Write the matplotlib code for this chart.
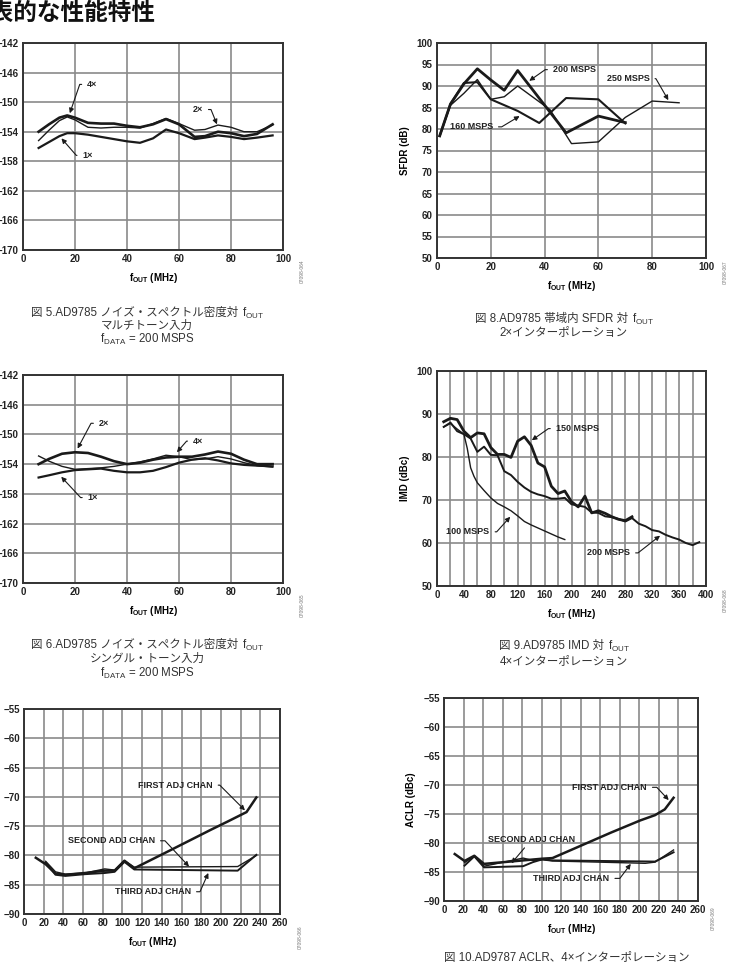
import numpy as np
import matplotlib
matplotlib.use("Agg")
import matplotlib.pyplot as plt

plt.rcParams['font.family'] = ['Liberation Sans', 'Noto Sans CJK JP']
plt.rcParams['mathtext.fontset'] = 'custom'
plt.rcParams['mathtext.rm'] = 'Liberation Sans'
plt.rcParams['mathtext.bf'] = 'Liberation Sans:bold'

W, H = 737, 969

# --- Fig 5: NSD multi-tone ---
nsd_mt_x = [6, 10, 14, 17, 20, 25, 30, 35, 40, 45, 50, 55, 60, 66, 70, 75, 80, 85, 90, 96]
nsd_mt_4x = [-154.0, -153.0, -152.1, -151.8, -152.1, -152.8, -152.9, -152.9, -153.2, -153.4,
             -153.0, -152.3, -153.0, -154.7, -154.6, -154.0, -154.2, -154.6, -154.3, -153.0]
nsd_mt_2x = [-155.2, -153.8, -152.5, -152.0, -152.4, -153.4, -153.5, -153.4, -153.4, -153.5,
             -152.9, -152.2, -152.9, -153.8, -153.7, -153.1, -153.4, -154.0, -154.0, -153.1]
nsd_mt_1x = [-156.2, -155.4, -154.6, -154.2, -154.2, -154.4, -154.7, -155.0, -155.3, -155.5,
             -154.9, -153.7, -154.2, -155.0, -154.8, -154.5, -154.7, -155.0, -154.8, -154.5]

# --- Fig 6: NSD single tone ---
nsd_st_x = [6, 10, 15, 20, 25, 30, 35, 40, 45, 50, 55, 60, 65, 70, 75, 80, 85, 90, 96]
nsd_st_2x = [-154.0, -153.3, -152.6, -152.4, -152.5, -153.0, -153.6, -154.0, -153.8, -153.4,
             -153.1, -153.0, -153.0, -152.7, -152.3, -152.6, -153.4, -154.0, -154.0]
nsd_st_4x = [-152.9, -153.6, -154.3, -154.7, -154.6, -154.5, -154.3, -154.0, -153.7, -153.3,
             -152.8, -153.0, -153.4, -153.3, -153.0, -153.3, -153.8, -154.2, -154.4]
nsd_st_1x = [-155.8, -155.5, -155.1, -154.8, -154.7, -154.6, -154.9, -155.1, -155.1, -154.9,
             -154.4, -153.8, -153.4, -153.2, -153.5, -153.9, -154.1, -154.2, -154.3]

# --- Fig 8: SFDR ---
sfdr_200_x = [1, 5, 10, 15, 20, 25, 30, 48, 60, 70]
sfdr_200 = [78.4, 85.8, 90.5, 94.0, 91.4, 89.0, 93.6, 79.1, 83.0, 81.5]
sfdr_160_x = [1, 5, 10, 15, 20, 30, 38, 48, 60, 70]
sfdr_160 = [78.4, 85.8, 90.7, 90.9, 86.9, 84.2, 81.4, 87.2, 86.9, 81.3]
sfdr_250_x = [1, 5, 10, 15, 20, 25, 30, 42, 50, 60, 70, 80, 90]
sfdr_250 = [78.4, 85.5, 88.3, 91.5, 86.9, 87.5, 90.0, 84.5, 76.6, 77.0, 82.7, 86.5, 86.1]

# --- Fig 9: IMD ---
imd_150_x = [10, 20, 30, 40, 50, 60, 70, 80, 90, 100, 110, 120, 130, 140, 150, 160, 170, 180,
             190, 200, 210, 220, 230, 240, 250, 260, 270, 280, 290]
imd_150 = [88.2, 89.0, 88.7, 86.0, 84.5, 85.6, 85.4, 82.2, 80.6, 80.6, 79.9, 83.7, 84.7, 82.7,
           78.6, 77.7, 73.2, 71.5, 72.1, 69.6, 68.4, 70.9, 67.0, 67.5, 66.9, 66.1, 65.5, 65.2, 66.1]
imd_200_x = [10, 20, 30, 40, 50, 60, 70, 80, 90, 100, 110, 120, 130, 140, 150, 160, 170, 180,
             190, 200, 210, 220, 230, 240, 250, 260, 270, 280, 290, 300, 310, 320, 330, 340,
             350, 360, 370, 380, 390]
imd_200 = [87.0, 88.0, 86.0, 85.3, 84.3, 81.2, 82.4, 80.5, 80.4, 76.7, 75.8, 74.2, 72.9, 71.9,
           71.3, 70.9, 70.3, 70.3, 70.5, 69.0, 68.7, 68.4, 67.1, 67.0, 66.2, 66.0, 65.6, 65.0,
           65.8, 64.5, 63.9, 63.0, 62.7, 61.9, 61.3, 60.8, 60.0, 59.5, 60.2]
imd_100_x = [10, 20, 30, 40, 45, 50, 55, 60, 70, 80, 90, 100, 110, 120, 130, 140, 150, 160,
             170, 180, 190]
imd_100 = [87.0, 87.8, 86.5, 85.3, 82.0, 77.5, 75.5, 74.0, 72.2, 70.5, 69.2, 68.4, 67.5, 66.3,
           65.0, 64.2, 63.5, 62.8, 62.1, 61.4, 60.8]

# --- Fig 7: ACLR AD9785 ---
aclr5_first_x = [12, 22, 32, 42, 62, 82, 92, 102, 112, 150, 190, 207, 226, 236]
aclr5_first = [-80.4, -81.5, -83.1, -83.3, -83.0, -82.6, -82.6, -80.9, -82.2, -79.0, -75.6,
               -74.2, -72.6, -70.1]
aclr5_second_x = [22, 32, 42, 62, 82, 92, 102, 112, 217, 236]
aclr5_second = [-81.0, -82.8, -83.2, -83.0, -82.3, -82.5, -80.9, -82.0, -81.9, -80.0]
aclr5_third_x = [22, 32, 42, 62, 82, 92, 102, 112, 217, 236]
aclr5_third = [-81.2, -83.3, -83.5, -83.2, -83.0, -82.8, -81.1, -82.4, -82.6, -79.9]

# --- Fig 10: ACLR AD9787 ---
aclr7_first_x = [11, 21, 31, 41, 81, 101, 111, 141, 171, 201, 216, 226, 235]
aclr7_first = [-81.9, -83.1, -82.2, -83.6, -83.0, -82.7, -82.6, -80.4, -78.2, -76.1, -75.2,
               -74.2, -72.2]
aclr7_second_x = [21, 31, 41, 81, 91, 101, 111, 216, 235]
aclr7_second = [-83.9, -82.3, -84.2, -84.0, -83.3, -82.8, -83.0, -83.2, -81.6]
aclr7_third_x = [21, 31, 41, 81, 91, 101, 111, 206, 216, 235]
aclr7_third = [-83.4, -82.2, -84.0, -82.6, -83.0, -82.9, -83.1, -83.5, -83.3, -81.2]

GRID = '#8a8a8a'
LINE = '#1a1a1a'
XLAB = r'$\mathbf{f}_{\mathbf{OUT}}$ (MHz)'

fig = plt.figure(figsize=(W / 100, H / 100), dpi=100)


def make_ax(l, r, t, b):
    ax = fig.add_axes([l / W, 1 - b / H, (r - l) / W, (b - t) / H])
    for s in ax.spines.values():
        s.set_color('#333333')
        s.set_linewidth(1.4)
    ax.tick_params(length=0, labelsize=7, pad=3, colors='#222222')
    ax.grid(True, which='both', color=GRID, lw=1.2)
    ax.set_axisbelow(True)
    ax.set_xlabel(XLAB, fontsize=7, fontweight='bold', labelpad=5)
    return ax


def bold_ticks(ax):
    for lab in ax.get_xticklabels() + ax.get_yticklabels():
        lab.set_fontweight('bold')


def label(ax, txt, anchor, tip, ang, ha):
    ax.annotate(txt, xy=tip, xytext=anchor, ha=ha, va='center', fontsize=6.5,
                fontweight='bold', color='#222222',
                arrowprops=dict(arrowstyle='-|>', color=LINE, lw=0.8, shrinkA=2, shrinkB=0,
                                mutation_scale=7,
                                connectionstyle=f'angle,angleA=0,angleB={ang},rad=0'))


def fig_id(x, y, s):
    fig.text(x / W, 1 - y / H, s, rotation=90, fontsize=3.5, color='#777777',
             ha='center', va='center')


def caption(x, y, txt):
    fig.text(x / W, 1 - y / H, txt, ha='center', va='center', fontsize=8.3, color='#333333')


def caption_fout(ax, x, y, txt):
    t = fig.text(x / W, 1 - y / H, txt, ha='center', va='center', fontsize=8.3,
                 color='#333333')
    ax.annotate(r'f$_{\mathrm{OUT}}$', xy=(1, 0), xycoords=t, xytext=(2.5, 1.6),
                textcoords='offset points', ha='left', va='baseline', fontsize=8.3,
                color='#333333', annotation_clip=False)


# title (cut at the left edge of the page)
fig.text(-33 / W, 1 - 13 / H, '代表的な性能特性', fontsize=17, fontweight='bold',
         ha='left', va='center', color='#111111')

# ---------- Fig 5 ----------
ax1 = make_ax(23, 283, 43, 250)
ax1.plot(nsd_mt_x, nsd_mt_2x, color=LINE, lw=1.0)
ax1.plot(nsd_mt_x, nsd_mt_1x, color=LINE, lw=1.6)
ax1.plot(nsd_mt_x, nsd_mt_4x, color=LINE, lw=1.9)
ax1.set_xlim(0, 100)
ax1.set_ylim(-170, -142)
ax1.set_xticks(np.arange(0, 101, 20))
ax1.set_yticks(np.arange(-170, -141, 4))
bold_ticks(ax1)
label(ax1, '4×', (24.7, -147.6), (18, -151.5), 71, 'left')
label(ax1, '2×', (69.2, -151.0), (74.6, -153.0), 112, 'right')
label(ax1, '1×', (22.9, -157.2), (14.8, -154.9), -49, 'left')
fig_id(302, 271, '07098-064')
caption_fout(ax1, 135, 313, '図 5.AD9785 ノイズ・スペクトル密度対')
caption(147, 326, 'マルチトーン入力')
caption(147, 339, r'f$_{\mathrm{DATA}}$ = 200 MSPS')

# ---------- Fig 8 ----------
ax2 = make_ax(437, 706, 43, 258)
ax2.plot(sfdr_250_x, sfdr_250, color=LINE, lw=1.0)
ax2.plot(sfdr_160_x, sfdr_160, color=LINE, lw=1.5)
ax2.plot(sfdr_200_x, sfdr_200, color=LINE, lw=2.0)
ax2.set_xlim(0, 100)
ax2.set_ylim(50, 100)
ax2.set_xticks(np.arange(0, 101, 20))
ax2.set_yticks(np.arange(50, 101, 5))
ax2.set_ylabel('SFDR (dB)', fontsize=7, fontweight='bold', labelpad=5)
bold_ticks(ax2)
label(ax2, '200 MSPS', (43.1, 93.8), (34.3, 91.2), 35, 'left')
label(ax2, '250 MSPS', (79.0, 91.7), (86.0, 86.7), 120, 'right')
label(ax2, '160 MSPS', (20.8, 80.5), (30.7, 83.0), 31, 'right')
fig_id(725, 272, '07098-067')
caption_fout(ax2, 552, 319, '図 8.AD9785 帯域内 SFDR 対')
caption(564, 333, '2×インターポレーション')

# ---------- Fig 6 ----------
ax3 = make_ax(23, 283, 375, 583)
ax3.plot(nsd_st_x, nsd_st_4x, color=LINE, lw=1.0)
ax3.plot(nsd_st_x, nsd_st_1x, color=LINE, lw=1.6)
ax3.plot(nsd_st_x, nsd_st_2x, color=LINE, lw=1.9)
ax3.set_xlim(0, 100)
ax3.set_ylim(-170, -142)
ax3.set_xticks(np.arange(0, 101, 20))
ax3.set_yticks(np.arange(-170, -141, 4))
bold_ticks(ax3)
label(ax3, '2×', (29.2, -148.5), (21.0, -151.9), 62, 'left')
label(ax3, '4×', (65.4, -150.9), (59.2, -152.4), 49, 'left')
label(ax3, '1×', (24.9, -158.5), (14.7, -155.7), -47, 'left')
fig_id(302, 605, '07098-065')
caption_fout(ax3, 135, 645, '図 6.AD9785 ノイズ・スペクトル密度対')
caption(147, 659, 'シングル・トーン入力')
caption(147, 673, r'f$_{\mathrm{DATA}}$ = 200 MSPS')

# ---------- Fig 9 ----------
ax4 = make_ax(437, 706, 371, 586)
ax4.plot(imd_100_x, imd_100, color=LINE, lw=1.0)
ax4.plot(imd_200_x, imd_200, color=LINE, lw=1.4)
ax4.plot(imd_150_x, imd_150, color=LINE, lw=2.0)
ax4.set_xlim(0, 400)
ax4.set_ylim(50, 100)
ax4.set_xticks(np.arange(0, 401, 40))
ax4.set_xticks(np.arange(0, 401, 20), minor=True)
ax4.set_yticks(np.arange(50, 101, 10))
ax4.tick_params(which='minor', length=0)
ax4.set_ylabel('IMD (dBc)', fontsize=7, fontweight='bold', labelpad=5)
bold_ticks(ax4)
label(ax4, '150 MSPS', (176.7, 86.6), (141, 83.9), 35, 'left')
label(ax4, '100 MSPS', (78.2, 62.6), (108.9, 66.1), 48, 'right')
label(ax4, '200 MSPS', (287.1, 57.7), (331.7, 61.7), 38, 'right')
fig_id(725, 600, '07098-068')
caption_fout(ax4, 552, 646, '図 9.AD9785 IMD 対')
caption(564, 662, '4×インターポレーション')

# ---------- Fig 7 ----------
ax5 = make_ax(24, 280, 709, 914)
ax5.plot(aclr5_third_x, aclr5_third, color=LINE, lw=1.4)
ax5.plot(aclr5_second_x, aclr5_second, color=LINE, lw=1.0)
ax5.plot(aclr5_first_x, aclr5_first, color=LINE, lw=1.8)
ax5.set_xlim(0, 260)
ax5.set_ylim(-90, -55)
ax5.set_xticks(np.arange(0, 261, 20))
ax5.set_yticks(np.arange(-90, -54, 5))
bold_ticks(ax5)
label(ax5, 'FIRST ADJ CHAN', (191.6, -68.0), (224.4, -72.3), 135, 'right')
label(ax5, 'SECOND ADJ CHAN', (133.0, -77.5), (167.6, -81.9), 133, 'right')
label(ax5, 'THIRD ADJ CHAN', (169.6, -86.2), (187.2, -83.0), 66, 'right')
fig_id(300, 937, '07098-066')
caption(150, 976, '図 7.AD9785 ACLR、4×インターポレーション')

# ---------- Fig 10 ----------
ax6 = make_ax(444, 698, 698, 901)
ax6.plot(aclr7_third_x, aclr7_third, color=LINE, lw=1.0)
ax6.plot(aclr7_second_x, aclr7_second, color=LINE, lw=1.4)
ax6.plot(aclr7_first_x, aclr7_first, color=LINE, lw=1.8)
ax6.set_xlim(0, 260)
ax6.set_ylim(-90, -55)
ax6.set_xticks(np.arange(0, 261, 20))
ax6.set_yticks(np.arange(-90, -54, 5))
ax6.set_ylabel('ACLR (dBc)', fontsize=7, fontweight='bold', labelpad=5)
bold_ticks(ax6)
label(ax6, 'FIRST ADJ CHAN', (207.7, -70.4), (230, -72.6), 133, 'right')
ax6.annotate('SECOND ADJ CHAN', xy=(69.1, -83.5), xytext=(89.6, -79.4), ha='center',
             va='center', fontsize=6.5, fontweight='bold', color='#222222',
             arrowprops=dict(arrowstyle='-|>', color=LINE, lw=0.8, shrinkA=1, shrinkB=0,
                             mutation_scale=7))
label(ax6, 'THIRD ADJ CHAN', (169.3, -86.1), (191.2, -83.6), 53, 'right')
fig_id(713, 918, '07098-069')
caption(567, 958, '図 10.AD9787 ACLR、4×インターポレーション')

fig.savefig('out.png', dpi=100)
